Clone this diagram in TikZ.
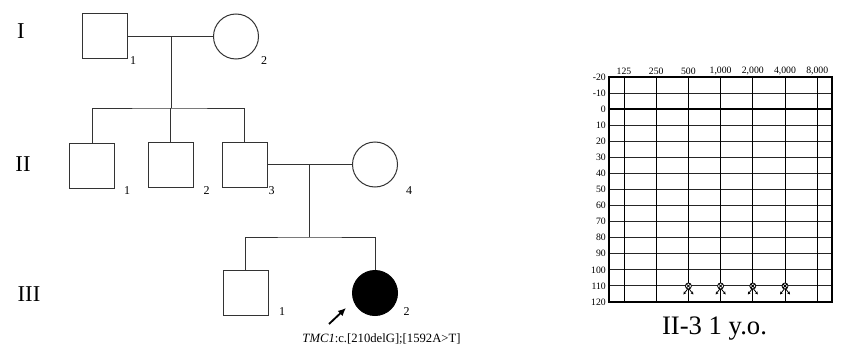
\documentclass[tikz,border=0pt]{standalone}
\usepackage{fontspec}
\setmainfont{Liberation Serif}
\usetikzlibrary{arrows.meta}
\colorlet{pedline}{black!80}
\colorlet{gridline}{black!85}

\begin{document}
\begin{tikzpicture}[x=0.75pt,y=-0.75pt,
  male/.style={draw=pedline,line width=0.75pt,minimum size=33.75pt,inner sep=0pt},
  female/.style={male,circle},
  affected/.style={female,fill=black,draw=black},
  gen/.style={font=\fontsize{17}{17}\selectfont},
  num/.style={font=\fontsize{9}{9}\selectfont,inner sep=0pt},
  tick/.style={font=\fontsize{7.3}{7.3}\selectfont,inner sep=0pt}]
\useasboundingbox (0,0) rectangle (846,353);

% generations
\node[gen] (g1) at (21,31) {I};
\node[gen] (g2) at (23,164) {II};
\node[gen] (g3) at (29,294) {III};

% individuals
\node[male] (I1) at (104.5,36.5) {};
\node[female] (I2) at (236,36.5) {};
\node[male] (II1) at (92,165.5) {};
\node[male] (II2) at (170.5,164.5) {};
\node[male] (II3) at (244.5,164.5) {};
\node[female] (II4) at (375,164.5) {};
\node[male] (III1) at (245.5,292.5) {};
\node[affected] (III2) at (375,293) {};

\node[num] (nI1) at (133,61) {1};
\node[num] (nI2) at (264,61) {2};
\node[num] (nII1) at (127,191) {1};
\node[num] (nII2) at (206.5,191) {2};
\node[num] (nII3) at (271.5,191) {3};
\node[num] (nII4) at (409,191) {4};
\node[num] (nIII1) at (282,312) {1};
\node[num] (nIII2) at (406.5,312) {2};

% lines of descent
\coordinate (m1) at (171,36.5);
\coordinate (s1) at (171,108);
\coordinate (m2) at (309,164.5);
\coordinate (s2) at (309,237);
\draw[pedline] (I1) -- (I2);
\draw[pedline] (m1) -- (s1);
\draw[pedline] (II1.north) |- (s1) -| (II3.north);
\draw[pedline] (II2.north) -- (II2.north |- s1);
\draw[pedline] (II3) -- (II4);
\draw[pedline] (m2) -- (s2);
\draw[pedline] (III1.north) |- (s2) -| (III2.north);

% proband
\coordinate (a0) at (329,324);
\coordinate (a1) at (346,308);
\draw[-{Latex[length=6pt,width=5.5pt]},line width=1.4pt] (a0) -- (a1);
\node[font=\fontsize{9.5}{9.5}\selectfont] (mut) at (381.5,339) {\textit{TMC1}:c.[210delG];[1592A>T]};

% audiogram
\foreach \d [count=\i from 0] in {-20,-10,...,120}{
  \draw[gridline,line width=0.75pt] (609,{77+16.07*\i}) -- (832,{77+16.07*\i});
  \node[tick,anchor=east] (db\i) at (606,{77+16.07*\i}) {\d};
}
\draw[black,line width=1.5pt] (609,109.14) -- (832,109.14);
\foreach \f [count=\i from 0] in {125,250,500,{1,000},{2,000},{4,000},{8,000}}{
  \draw[black,line width=0.75pt] ({624+32.2*\i},77) -- ({624+32.2*\i},302);
  \node[tick] (hz\i) at ({624+32.2*\i},71) {\f};
}
\draw[black,line width=0.9pt] (609,77) rectangle (832,302);

% no response marks
\foreach \i in {2,...,5}{
  \begin{scope}[shift={({624+32.2*\i},286)},line width=0.6pt]
    \draw[fill=white] (0,0) circle (3);
    \draw (-2.1,-2.1) -- (2.1,2.1) (-2.1,2.1) -- (2.1,-2.1);
    \draw[-{Stealth[length=2.2pt,width=2.2pt]}] (-0.8,3) -- (-5,8.5);
    \draw[-{Stealth[length=2.2pt,width=2.2pt]}] (0.8,3) -- (5,8.5);
  \end{scope}
}

\node[font=\fontsize{20}{20}\selectfont,anchor=base] (cap) at (714.5,334) {II-3 1 y.o.};

\end{tikzpicture}
\end{document}
